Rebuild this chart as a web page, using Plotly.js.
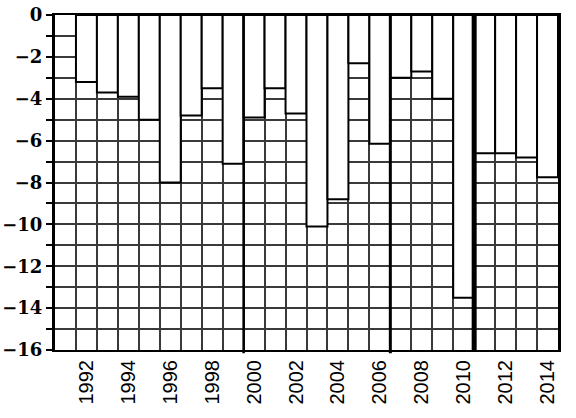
<!DOCTYPE html>
<html>
<head>
<meta charset="utf-8">
<script src="https://cdn.plot.ly/plotly-3.0.1.min.js"></script>
<style>html,body{margin:0;padding:0;background:#fff;}#chart{width:576px;height:418px;}</style>
</head>
<body>
<div id="chart"></div>
<script>
const years = [1991,1992,1993,1994,1995,1996,1997,1998,1999,2000,2001,2002,2003,2004,2005,2006,2007,2008,2009,2010,2011,2012,2013,2014];
const values = [null,-3.2,-3.7,-3.9,-5.0,-8.0,-4.8,-3.5,-7.1,-4.9,-3.5,-4.7,-10.1,-8.8,-2.3,-6.15,-3.0,-2.7,-4.0,-13.5,-6.6,-6.6,-6.8,-7.75];
const tickYears = [1992,1994,1996,1998,2000,2002,2004,2006,2008,2010,2012,2014];
const yTicks = [0,-2,-4,-6,-8,-10,-12,-14,-16];
const separators = [1999.5, 2006.5, 2010.5];
const separatorWidths = [2.5, 3, 5];

const trace = {
  type: 'bar', x: years, y: values,
  width: 1,
  marker: {color: '#ffffff', line: {color: '#000000', width: 2}},
  hoverinfo: 'skip'
};

const shapes = separators.map((s, i) => ({
  type: 'line', xref: 'x', yref: 'paper', x0: s, x1: s, y0: (i < 2 ? -0.01 : 0), y1: 1,
  line: {color: '#000', width: separatorWidths[i]}
}));

const gridCol = '#3a3a3a';
const layout = {
  width: 576, height: 418,
  margin: {l: 55, r: 18, t: 15, b: 68},
  paper_bgcolor: '#fff', plot_bgcolor: '#fff',
  showlegend: false, bargap: 0,
  font: {family: 'Liberation Sans', color: '#000'},
  xaxis: {
    range: [years[0] - 0.5, years[years.length - 1] + 0.5],
    tickmode: 'array', tickvals: tickYears, ticktext: tickYears.map(String),
    tickangle: -90, ticks: '', showgrid: false, zeroline: false,
    showline: true, linecolor: '#000', linewidth: 2, mirror: true,
    tickfont: {family: 'Liberation Sans', size: 20, color: '#000'},
    minor: {tickmode: 'linear', tick0: years[0] - 0.5, dtick: 1, showgrid: true, gridcolor: gridCol, gridwidth: 2, ticks: ''}
  },
  yaxis: {
    range: [yTicks[yTicks.length - 1], yTicks[0]],
    tickmode: 'array', tickvals: yTicks, ticktext: yTicks.map(v => v === 0 ? '0' : '\u2212' + Math.abs(v)),
    ticks: 'outside', ticklen: 6, tickwidth: 2, tickcolor: '#000',
    showgrid: true, gridcolor: gridCol, gridwidth: 2, zeroline: false,
    showline: true, linecolor: '#000', linewidth: 3, mirror: true,
    tickfont: {family: 'DejaVu Serif', size: 18, color: '#000', weight: 700},
    minor: {tickmode: 'linear', tick0: 0, dtick: 1, showgrid: true, gridcolor: gridCol, gridwidth: 2, ticks: 'outside', ticklen: 6, tickwidth: 2, tickcolor: '#000'}
  },
  shapes: shapes
};

Plotly.newPlot('chart', [trace], layout, {staticPlot: true, displayModeBar: false});
</script>
</body>
</html>
